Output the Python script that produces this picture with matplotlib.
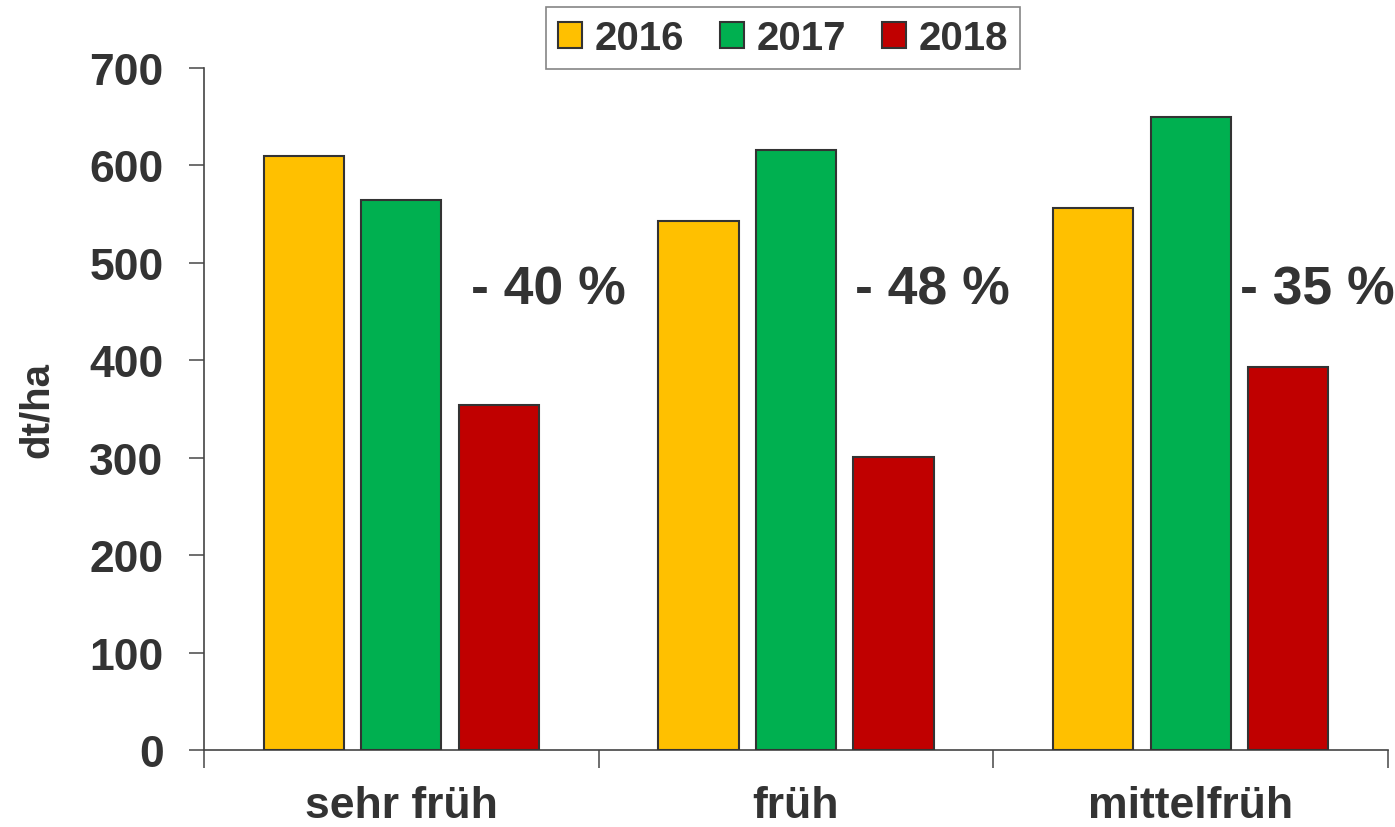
import numpy as np
import matplotlib.pyplot as plt
from matplotlib.patches import Patch

# ----------------------------
# Data
# ----------------------------
categories = ["sehr früh", "früh", "mittelfrüh"]
years = ["2016", "2017", "2018"]
yield_2016 = [610, 543, 556]
yield_2017 = [564, 616, 650]
yield_2018 = [354, 301, 393]
change_labels = ["- 40 %", "- 48 %", "- 35 %"]
label_y = 473

colors = ["#FFC000", "#00B050", "#C00000"]
text_col = "#333333"
edge_col = "#333333"

plt.rcParams["font.family"] = ["Liberation Sans", "DejaVu Sans"]
plt.rcParams["font.weight"] = "bold"

fig = plt.figure(figsize=(13.95, 8.28), dpi=100)
ax = fig.add_axes([0.1462, 0.093, 0.8488, 0.8237])

x = np.arange(len(categories))
width = 0.203
offset = 0.247
series = [yield_2016, yield_2017, yield_2018]
for i, (vals, c) in enumerate(zip(series, colors)):
    ax.bar(x + (i - 1) * offset, vals, width, color=c, edgecolor=edge_col, linewidth=1.5, zorder=3)

# the % labels are not placed uniformly in the original
label_shift = [0.03, 0.005, -0.02]
for xi, lab, dx in zip(x, change_labels, label_shift):
    ax.text(xi + offset - width / 2 + dx, label_y, lab, fontsize=38.5, fontweight="bold",
            color=text_col, ha="left", va="center", clip_on=False)

ax.set_xlim(-0.5, 2.5)
ax.set_ylim(0, 700)
ax.set_yticks(np.arange(0, 701, 100))
ax.set_xticks([-0.5, 0.5, 1.5, 2.5])
ax.set_xticklabels([])
ax.set_xticks(x, minor=True)
ax.set_xticklabels(categories, minor=True)
ax.tick_params(axis="x", which="minor", length=0, pad=25, labelsize=32, labelcolor=text_col)
ax.tick_params(axis="x", which="major", length=13, width=1.2, color="#555555")
ax.tick_params(axis="y", length=11, width=1.2, color="#555555", pad=18, labelsize=32, labelcolor=text_col)

for s in ["top", "right"]:
    ax.spines[s].set_visible(False)
for s in ["left", "bottom"]:
    ax.spines[s].set_color("#444444")
    ax.spines[s].set_linewidth(1.2)

ax.set_ylabel("dt/ha", fontsize=29, fontweight="bold", color=text_col, labelpad=24)

handles = [Patch(facecolor=c, edgecolor=edge_col, linewidth=1.5) for c in colors]
leg = fig.legend(handles, years, loc="center", bbox_to_anchor=(0.5613, 0.9525),
                 ncol=3, fontsize=29, frameon=True, fancybox=False,
                 handlelength=0.6, handleheight=0.6, handletextpad=0.3,
                 columnspacing=0.9, borderpad=0.3, borderaxespad=0)
leg.get_frame().set_edgecolor("#666666")
leg.get_frame().set_linewidth(1.2)
for t in leg.get_texts():
    t.set_color(text_col)

fig.savefig("out.png", dpi=100)
